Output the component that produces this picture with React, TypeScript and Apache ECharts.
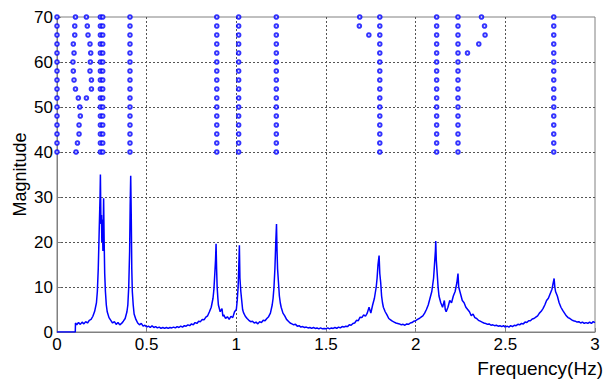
import React, { useEffect, useRef } from "react";
import * as echarts from "echarts";

// Spectrum (frequency in Hz, magnitude)
const freq: number[] = [
  0, 0.102, 0.103, 0.11, 0.12, 0.13, 0.14, 0.15, 0.16, 0.17, 0.18, 0.19, 0.2, 0.21, 0.22, 0.225, 0.23, 0.235, 0.24, 0.242,
  0.245, 0.248, 0.25, 0.253, 0.256, 0.26, 0.263, 0.266, 0.27, 0.275, 0.28, 0.29, 0.3, 0.31, 0.32, 0.33, 0.34, 0.35, 0.36, 0.37,
  0.38, 0.39, 0.395, 0.4, 0.405, 0.408, 0.411, 0.414, 0.417, 0.42, 0.425, 0.43, 0.44, 0.45, 0.46, 0.47, 0.48, 0.49, 0.5, 0.51,
  0.52, 0.53, 0.54, 0.55, 0.56, 0.57, 0.58, 0.59, 0.6, 0.61, 0.62, 0.63, 0.64, 0.65, 0.66, 0.67, 0.68, 0.69, 0.7, 0.71,
  0.72, 0.73, 0.74, 0.75, 0.76, 0.77, 0.78, 0.79, 0.8, 0.81, 0.82, 0.83, 0.84, 0.85, 0.86, 0.87, 0.875, 0.88, 0.884, 0.887,
  0.89, 0.893, 0.897, 0.9, 0.91, 0.92, 0.925, 0.93, 0.94, 0.95, 0.96, 0.97, 0.98, 0.99, 1.0, 1.005, 1.01, 1.014, 1.017, 1.02,
  1.025, 1.03, 1.035, 1.04, 1.05, 1.06, 1.07, 1.08, 1.09, 1.1, 1.11, 1.12, 1.13, 1.14, 1.15, 1.16, 1.17, 1.18, 1.19, 1.2,
  1.205, 1.21, 1.215, 1.22, 1.224, 1.227, 1.23, 1.235, 1.24, 1.245, 1.25, 1.26, 1.27, 1.28, 1.29, 1.3, 1.31, 1.32, 1.33, 1.34,
  1.35, 1.36, 1.37, 1.38, 1.39, 1.4, 1.41, 1.42, 1.43, 1.44, 1.45, 1.46, 1.47, 1.48, 1.49, 1.5, 1.51, 1.52, 1.53, 1.54,
  1.55, 1.56, 1.57, 1.58, 1.59, 1.6, 1.61, 1.62, 1.63, 1.64, 1.65, 1.66, 1.67, 1.68, 1.69, 1.7, 1.71, 1.72, 1.73, 1.74,
  1.75, 1.76, 1.77, 1.78, 1.785, 1.79, 1.796, 1.8, 1.805, 1.81, 1.815, 1.82, 1.83, 1.84, 1.85, 1.86, 1.87, 1.88, 1.89, 1.9,
  1.91, 1.92, 1.93, 1.94, 1.95, 1.96, 1.97, 1.98, 1.99, 2.0, 2.01, 2.02, 2.03, 2.04, 2.05, 2.06, 2.07, 2.08, 2.09, 2.1,
  2.105, 2.11, 2.112, 2.115, 2.12, 2.125, 2.13, 2.14, 2.15, 2.16, 2.165, 2.17, 2.18, 2.19, 2.2, 2.21, 2.22, 2.23, 2.236, 2.24,
  2.25, 2.26, 2.27, 2.28, 2.29, 2.3, 2.31, 2.32, 2.33, 2.34, 2.35, 2.36, 2.37, 2.38, 2.39, 2.4, 2.41, 2.42, 2.43, 2.44,
  2.45, 2.46, 2.47, 2.48, 2.49, 2.5, 2.51, 2.52, 2.53, 2.54, 2.55, 2.56, 2.57, 2.58, 2.59, 2.6, 2.61, 2.62, 2.63, 2.64,
  2.65, 2.66, 2.67, 2.68, 2.69, 2.7, 2.71, 2.72, 2.73, 2.74, 2.75, 2.76, 2.765, 2.772, 2.776, 2.78, 2.79, 2.8, 2.81, 2.82,
  2.83, 2.84, 2.85, 2.86, 2.87, 2.88, 2.89, 2.9, 2.91, 2.92, 2.93, 2.94, 2.95, 2.96, 2.97, 2.98, 2.99, 3.0,
];
const magnitude: number[] = [
  0, 0, 2.0, 1.6, 2.1, 1.7, 2.2, 1.8, 2.3, 2.0, 2.6, 2.8, 3.5, 4.6, 6.5, 9, 14, 22, 30, 35,
  24, 26, 20, 25, 18, 29.7, 20, 13, 9, 6, 4.5, 3.2, 2.6, 2.0, 2.3, 1.7, 2.1, 1.6, 1.9, 2.4,
  3.0, 4.5, 6, 10, 18, 28, 34.7, 26, 14, 9, 6, 4, 2.8, 2.0, 1.6, 1.9, 1.3, 1.5, 1.1, 1.3,
  1.0, 1.4, 1.0, 1.2, 0.9, 1.1, 0.8, 1.0, 0.8, 1.0, 0.8, 1.0, 0.9, 1.1, 0.9, 1.2, 1.0, 1.3, 1.1, 1.4,
  1.3, 1.6, 1.4, 1.8, 1.6, 2.1, 1.9, 2.4, 2.3, 2.8, 2.7, 3.3, 3.6, 4.5, 5.5, 7.5, 9.5, 13, 16, 19.6,
  14, 10, 7.5, 6, 4.5, 5.2, 3.5, 3.8, 3.0, 3.4, 2.8, 3.5, 3.2, 4.5, 5, 7, 10, 15, 19.3, 12,
  9, 7, 5, 4.3, 3.5, 3.0, 2.6, 2.3, 2.4, 2.0, 2.2, 1.8, 2.3, 2.1, 2.6, 2.5, 3.0, 3.4, 4.2, 6,
  7.5, 10, 14, 20, 24, 18, 14, 11, 8, 6.5, 5.5, 4.2, 3.6, 2.8, 2.4, 2.0, 1.8, 1.6, 1.7, 1.3,
  1.4, 1.1, 1.2, 1.0, 1.1, 0.9, 1.0, 0.8, 1.0, 0.8, 0.9, 0.7, 0.9, 0.7, 0.8, 0.7, 0.9, 0.7, 0.9, 0.8,
  1.0, 0.8, 1.1, 0.9, 1.2, 1.1, 1.3, 1.2, 1.6, 1.5, 1.9, 2.0, 2.6, 2.5, 3.3, 3.2, 3.8, 3.5, 4.2, 5.5,
  4.2, 6.0, 7.5, 10, 12, 15, 17, 13, 11, 8, 6.5, 5.5, 4.5, 3.8, 3.0, 2.7, 2.4, 2.2, 2.0, 1.9,
  1.8, 1.6, 1.7, 1.5, 1.8, 1.7, 2.0, 2.1, 2.4, 2.5, 2.8, 3.0, 3.3, 3.6, 4.2, 5.0, 6.0, 7.5, 9, 12,
  15, 18, 20.2, 16, 13, 10, 8, 6.5, 5.5, 7.0, 5.0, 4.5, 5.5, 7.0, 6.5, 8.0, 9.0, 11, 13, 10,
  8.5, 7, 6.5, 5.5, 5.0, 4.5, 3.6, 4.0, 3.2, 3.0, 2.6, 2.4, 2.2, 2.0, 1.9, 1.7, 1.8, 1.5, 1.6, 1.4,
  1.5, 1.3, 1.4, 1.2, 1.4, 1.1, 1.3, 1.1, 1.4, 1.2, 1.5, 1.4, 1.7, 1.6, 1.9, 1.8, 2.2, 2.1, 2.5, 2.5,
  2.9, 3.0, 3.3, 3.6, 4.2, 4.6, 5.2, 6.0, 7.0, 7.5, 8.5, 9.5, 10.5, 11.9, 10, 9, 8, 6.5, 5.5, 4.8,
  4.2, 3.6, 3.2, 3.0, 2.7, 2.5, 2.4, 2.2, 2.3, 2.0, 2.2, 1.9, 2.1, 1.9, 2.2, 1.9, 2.3, 2.1,
];

// Stabilization diagram: model orders (y) and pole frequencies (x)
const orders: number[] = [70, 68, 66, 64, 62, 60, 58, 56, 54, 52, 50, 48, 46, 44, 42, 40];
const stableColumns: number[] = [0.0, 0.242, 0.255, 0.407, 0.891, 1.013, 1.223, 1.8, 2.117, 2.236, 2.77];
const driftA: number[] = [0.103, 0.099, 0.099, 0.091, 0.095, 0.089, 0.091, 0.095, 0.103, 0.119, 0.127, 0.13, 0.123, 0.123, 0.114, 0.106];
const driftB: number[] = [0.164, 0.169, 0.173, 0.184, 0.188, 0.186, 0.184, 0.192, 0.192, 0.164];
const driftC: number[] = [1.688, 1.686, 1.739];
const driftD: number[] = [2.367, 2.384, 2.387, 2.352, 2.289];

const xTicks: string[] = ["0", "0.5", "1", "1.5", "2", "2.5", "3"];

export default function App() {
  const ref = useRef<HTMLDivElement>(null);
  useEffect(() => {
    if (!ref.current) return;
    const chart = echarts.init(ref.current, undefined, { renderer: "svg" });
    const lineData = freq.map((f, i) => [f, magnitude[i]]);
    const pts: number[][] = [];
    stableColumns.forEach((f) => orders.forEach((o) => pts.push([f, o])));
    [driftA, driftB, driftC, driftD].forEach((arr) => arr.forEach((f, i) => pts.push([f, orders[i]])));
    const font = "Liberation Sans, Arial, Helvetica, sans-serif";
    const axisGray = "#808080";
    chart.setOption({
      animation: false,
      backgroundColor: "#ffffff",
      grid: {
        left: 57,
        right: 14,
        top: 17,
        bottom: 47,
        show: true,
        borderColor: axisGray,
        borderWidth: 1,
        containLabel: false,
        outerBoundsMode: "none",
      },
      xAxis: {
        type: "value",
        min: 0,
        max: 3,
        interval: 0.5,
        name: "Frequency(Hz)",
        nameLocation: "end",
        nameGap: 8,
        nameMoveOverlap: false,
        nameTextStyle: { fontFamily: font, fontSize: 19, color: "#000", align: "right", verticalAlign: "top", padding: [27, 0, 0, 0] },
        axisLine: { lineStyle: { color: axisGray } },
        axisTick: { inside: true, length: 4, lineStyle: { color: axisGray } },
        axisLabel: {
          fontFamily: font,
          fontSize: 17,
          color: "#000",
          margin: 4,
          formatter: (v: number) => xTicks[Math.round(v / 0.5)] ?? String(v),
        },
        splitLine: { show: true, showMinLine: false, showMaxLine: false, lineStyle: { color: "#555", type: [2, 2], width: 1 } },
      },
      yAxis: {
        type: "value",
        min: 0,
        max: 70,
        interval: 10,
        name: "Magnitude",
        nameLocation: "middle",
        nameGap: 28,
        nameMoveOverlap: false,
        nameTextStyle: { fontFamily: font, fontSize: 18, color: "#000" },
        axisLine: { show: true, lineStyle: { color: axisGray } },
        axisTick: { show: true, inside: true, length: 4, lineStyle: { color: axisGray } },
        axisLabel: { fontFamily: font, fontSize: 17, color: "#000", margin: 4 },
        splitLine: { show: true, showMinLine: false, showMaxLine: false, lineStyle: { color: "#555", type: [2, 2], width: 1 } },
      },
      series: [
        {
          type: "line",
          data: lineData,
          showSymbol: false,
          lineStyle: { color: "#0000ff", width: 1.5 },
          itemStyle: { color: "#0000ff" },
          z: 3,
        },
        {
          type: "scatter",
          data: pts,
          symbol: "emptyCircle",
          symbolSize: 3.6,
          itemStyle: { color: "#0000ff", borderColor: "#0000ff", borderWidth: 1 },
          z: 4,
        },
      ],
    });
    return () => chart.dispose();
  }, []);
  return <div ref={ref} style={{ position: "fixed", left: 0, top: 0, width: 609, height: 379 }} />;
}
